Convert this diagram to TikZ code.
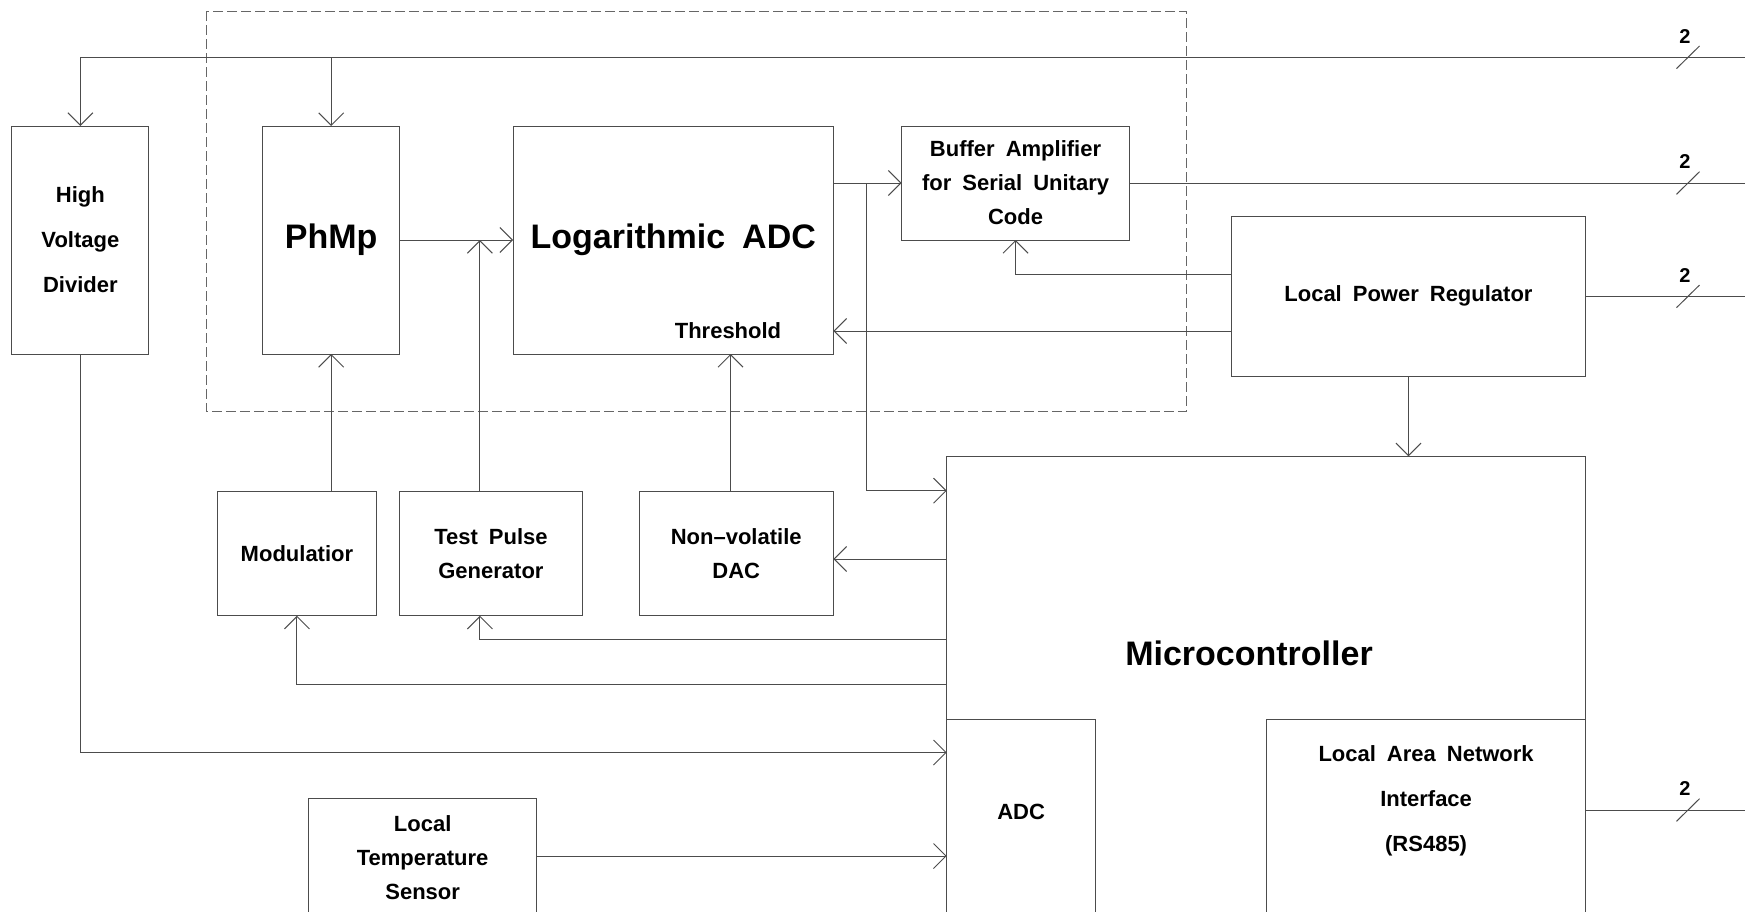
\documentclass[tikz,border=0pt]{standalone}
\usepackage{fontspec}
\setmainfont{Liberation Sans}[WordSpace=1.8]
\usetikzlibrary{arrows.meta,calc}
\newcommand\lblA{\fontsize{22}{34}\selectfont\bfseries}
\newcommand\lblB{\fontsize{22}{45}\selectfont\bfseries}
\newcommand\lblC{\fontsize{34}{40}\selectfont\bfseries}
\newcommand\lblD{\fontsize{20}{24}\selectfont\bfseries}
\tikzset{
 blk/.style={draw=black!70,line width=1pt,inner sep=0pt,outer sep=0pt,align=center,font=\lblA},
 wire/.style={draw=black!70,line width=1pt},
 sig/.style={wire,-{Straight Barb[length=12.5pt,width=25pt]}},
}
\begin{document}
\begin{tikzpicture}[x=1pt,y=-1pt]
\useasboundingbox(0,0)rectangle(1745,911);\clip(0,0)rectangle(1745,911);
% front end frame
\draw[black!60,line width=.8pt,dash pattern=on 10pt off 4pt](205.9,11)rectangle(1186.5,411);
% blocks
\node[blk,minimum width=137pt,minimum height=228pt,font=\lblB](hvd)at(80.4,240){High\\Voltage\\Divider};
\node[blk,minimum width=137.4pt,minimum height=228pt,font=\lblC](pm)at(331.2,240){PhMp};
\node[blk,minimum width=320.3pt,minimum height=228pt,font=\lblC](ladc)at(673.25,240){Logarithmic ADC};
\node[font=\lblA](thr)at(728,331){Threshold};
\node[blk,minimum width=228.1pt,minimum height=114pt](buf)at(1015.55,183){Buffer Amplifier\\for Serial Unitary\\Code};
\node[blk,minimum width=354.5pt,minimum height=159.3pt](lpr)at(1408.45,296.35){Local Power Regulator};
\node[blk,minimum width=159.1pt,minimum height=124.7pt](mod)at(296.95,553.35){Modulatior};
\node[blk,minimum width=182.9pt,minimum height=124.7pt](tpg)at(490.95,553.35){Test Pulse\\Generator};
\node[blk,minimum width=194.4pt,minimum height=124.7pt](dac)at(736.2,553.35){Non--volatile\\DAC};
\node[blk,minimum width=639pt,minimum height=543.7pt](mcu)at(1266.2,728.15){};
\node[blk,minimum width=148.8pt,minimum height=281pt](adc)at(1021.1,859.5){};
\node[blk,minimum width=319.2pt,minimum height=281pt](lan)at(1426.1,859.5){};
\node[blk,minimum width=228.5pt,minimum height=201.7pt](lts)at(422.65,899.15){};
\node[font=\lblC](mcut)at(1249,653){Microcontroller};
\node[font=\lblA](adct)at(1021.1,811.7){ADC};
\node[font=\lblB,align=center](lant)at(1426.1,800.6){Local Area Network\\Interface\\(RS485)};
\node[font=\lblA,align=center](ltst)at(422.65,858){Local\\Temperature\\Sensor};
% ports
\coordinate(o1)at(1745,57.3);\coordinate(o2)at(1745,183);\coordinate(o3)at(1745,296.35);\coordinate(o4)at(1745,810);
\coordinate(br)at(866.7,183);\coordinate(tp)at(479.9,240);
\coordinate(pa)at($(mcu.north west)+(0,34.4)$);\coordinate(pd)at($(mcu.north west)+(0,102.7)$);
\coordinate(pt)at($(mcu.north west)+(0,182.7)$);\coordinate(po)at($(mcu.north west)+(0,228)$);
\coordinate(ph)at($(mcu.north west)+(0,296.2)$);\coordinate(pl)at($(mcu.north west)+(0,399.7)$);
\coordinate(pb)at($(lpr.north west)+(0,57.3)$);\coordinate(pr)at($(lpr.north west)+(0,114.3)$);
% connections
\draw[sig](o1)-|(hvd);\draw[sig](pm|-o1)--(pm);
\draw[sig](pm)--(ladc);\draw[sig](ladc.east|-buf)--(buf);\draw[sig](br)|-(pa);
\draw[wire](buf)--(o2);\draw[wire](lpr)--(o3);\draw[wire](lan.east|-o4)--(o4);
\draw[sig](pb)-|(buf);\draw[sig](pr)--(pr-|ladc.east);\draw[sig](lpr)--(lpr|-mcu.north);
\draw[sig](mod.north-|pm)--(pm);\draw[sig](tp|-tpg.north)--(tp);
\draw[sig]([xshift=-5.7pt]dac.north)--([xshift=-5.7pt]dac.north|-ladc.south);
\draw[sig](pd)--(pd-|dac.east);\draw[sig](pt)-|(tp|-tpg.south);\draw[sig](po)-|(mod);
\draw[sig](hvd)|-(ph);\draw[sig](pl-|lts.east)--(pl);
% line counts
\foreach \o in {o1,o2,o3,o4}{\draw[wire]($(\o)+(-68.5,11.3)$)--++(23,-22.6);\node[font=\lblD](n\o)at($(\o)+(-60,-21)$){2};}
\end{tikzpicture}
\end{document}
